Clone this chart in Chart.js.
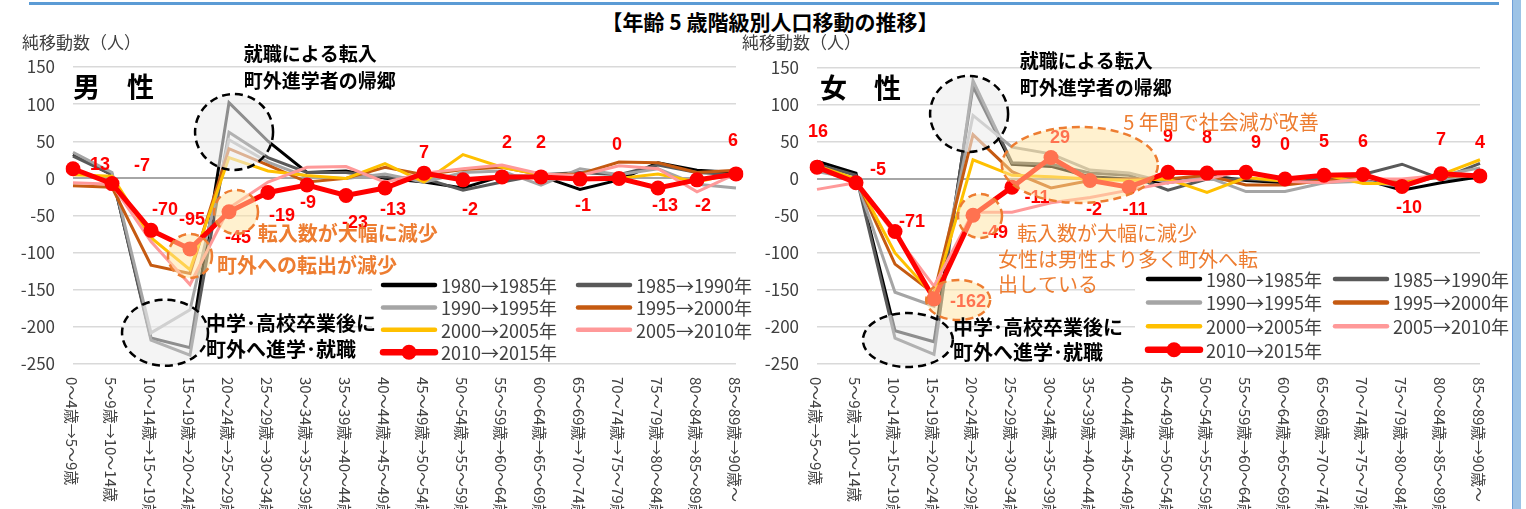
<!DOCTYPE html>
<html lang="ja">
<head>
<meta charset="utf-8">
<title>年齢5歳階級別人口移動の推移</title>
<script src="https://cdn.jsdelivr.net/npm/chart.js@4/dist/chart.umd.min.js"></script>
<style>
  html, body { margin: 0; padding: 0; background: #fff; }
  body { width: 1526px; height: 509px; position: relative; overflow: hidden; font-family: "Noto Sans CJK JP", sans-serif; }
  #topline { position: absolute; left: 29px; top: 2px; width: 1470px; height: 3px; background: #5b9bd5; }
  #sidebar { position: absolute; left: 1512px; top: 0; width: 8px; height: 509px; background: #9dc3e6; border-left: 1px solid #6f9fd8; }
  #title { position: absolute; left: 0; width: 1540px; top: 6px; text-align: center; font-weight: bold; font-size: 21px; color: #000; }
  canvas { position: absolute; top: 0; }
  #male { left: 0; }
  #female { left: 740px; }
</style>
</head>
<body>
<div id="topline"></div>
<div id="title">【年齢 5 歳階級別人口移動の推移】</div>
<canvas id="male" width="760" height="509"></canvas>
<canvas id="female" width="786" height="509"></canvas>
<div id="sidebar"></div>
<script>
// 年齢階級（移動前→移動後）
const categories = [
  '0～4歳→5～9歳', '5～9歳→10～14歳', '10～14歳→15～19歳', '15～19歳→20～24歳',
  '20～24歳→25～29歳', '25～29歳→30～34歳', '30～34歳→35～39歳', '35～39歳→40～44歳',
  '40～44歳→45～49歳', '45～49歳→50～54歳', '50～54歳→55～59歳', '55～59歳→60～64歳',
  '60～64歳→65～69歳', '65～69歳→70～74歳', '70～74歳→75～79歳', '75～79歳→80～84歳',
  '80～84歳→85～89歳', '85～89歳→90歳～'
];
const periods = ['1980→1985年', '1985→1990年', '1990→1995年', '1995→2000年', '2000→2005年', '2005→2010年', '2010→2015年'];
const seriesColors = ['#000000', '#595959', '#a5a5a5', '#c55a11', '#ffc000', '#ff9999', '#ff0000'];

// 男性 純移動数
const male1980 = [32, 5, -215, -228, 102, 50, 8, 10, 0, -5, -13, 3, 3, -15, -2, 21, 11, 8];
const male1985 = [30, 5, -218, -238, 62, 28, 8, 8, 2, 0, -16, -5, 5, 8, 5, 18, 8, 5];
const male1990 = [35, 8, -208, -177, 52, 22, 2, 0, 6, -5, 8, 10, -9, 13, 5, 13, -8, -13];
const male1995 = [-10, -12, -117, -128, 40, 18, -5, 0, 15, 5, 12, 15, 5, 6, 22, 21, 8, 11];
const male2000 = [5, 3, -80, -123, 28, 10, 4, 0, 20, -5, 32, 15, 5, -2, 0, 6, -5, 8];
const male2005 = [-6, -8, -85, -143, -40, -5, 15, 16, -5, 7, 13, 18, 6, 4, 17, 13, -18, 6];
const male2010 = [13, -7, -70, -95, -45, -19, -9, -23, -13, 7, -2, 2, 2, -1, 0, -13, -2, 6];

// 女性 純移動数
const female1980 = [24, 8, -205, -220, 125, 20, 17, 3, 0, -5, 5, -2, -5, 0, 0, -15, -5, 3];
const female1985 = [20, 5, -215, -237, 133, 22, 20, 8, 5, -15, 0, 0, -3, 0, 6, 20, 0, 21];
const female1990 = [10, 0, -153, -172, 86, 43, 34, 12, 8, -5, 3, -17, -17, -5, -3, -10, 5, 15];
const female1995 = [15, 0, -115, -155, 60, 10, -12, -2, 0, 0, 5, -8, -8, -2, 2, -5, 3, 5];
const female2000 = [18, 0, -100, -158, 26, 5, 3, 0, -2, 0, -18, 2, -3, 6, -6, -6, 6, 26];
const female2005 = [-14, -5, -75, -145, -45, -45, -32, -25, -15, -5, 0, 12, -3, -5, 0, 0, 5, 5];
const female2010 = [16, -5, -71, -162, -49, -11, 29, -2, -11, 9, 8, 9, 0, 5, 6, -10, 7, 4];

// 2010→2015年 データラベルの置き場所（点からのずれ, px）
const maleLabelOffsets = [[27,-4],[30,-18],[14,-20],[2,-29],[9,26],[14,24],[1,18],[9,28],[8,22],[0,-20],[7,30],[5,-34],[0,-34],[3,27],[-2,-33],[7,18],[6,26],[-3,-33]];
const femaleLabelOffsets = [[1,-35],[22,-13],[17,-10],[34,3],[22,18],[25,11],[9,-20],[4,30],[6,23],[0,-35],[0,-35],[10,-29],[0,-34],[0,-33],[0,-33],[7,22],[0,-34],[0,-33]];

const JP = '"Noto Sans CJK JP", sans-serif';

const decoPlugin = {
  id: 'deco',
  afterDatasetsDraw(chart, args, cfg) {
    const { ctx, scales: { x, y } } = chart;
    const red = chart.getDatasetMeta(chart.data.datasets.length - 1);
    const redData = chart.data.datasets[chart.data.datasets.length - 1].data;

    // data labels
    ctx.save();
    ctx.font = 'bold 18px "Liberation Sans", Arial, sans-serif';
    ctx.fillStyle = '#ff0000';
    ctx.textAlign = 'center';
    ctx.textBaseline = 'middle';
    red.data.forEach((pt, i) => {
      const o = cfg.labelOffsets[i];
      ctx.fillText(String(redData[i]), pt.x + o[0], pt.y + o[1]);
    });
    ctx.restore();

    // legend
    const lg = cfg.legend;
    ctx.save();
    ctx.fillStyle = '#fff';
    ctx.fillRect(lg.bg[0], lg.bg[1], lg.bg[2], lg.bg[3]);
    chart.data.datasets.forEach((ds, i) => {
      const lx = lg.x + (i % 2) * lg.colGap;
      const ly = lg.y + Math.floor(i / 2) * lg.rowGap;
      ctx.strokeStyle = ds.borderColor;
      ctx.lineWidth = ds.borderWidth + 1.5;
      ctx.lineCap = 'round';
      ctx.beginPath(); ctx.moveTo(lx, ly); ctx.lineTo(lx + 52, ly); ctx.stroke();
      if (ds.pointRadius > 0) {
        ctx.fillStyle = ds.borderColor;
        ctx.beginPath(); ctx.arc(lx + 26, ly, ds.pointRadius, 0, Math.PI * 2); ctx.fill();
      }
      ctx.fillStyle = '#404040';
      ctx.font = '18px ' + JP;
      ctx.textAlign = 'left';
      ctx.textBaseline = 'middle';
      ctx.fillText(ds.label, lx + 58, ly + 1);
    });
    ctx.restore();

    // ellipses
    cfg.ellipses.forEach(e => {
      ctx.save();
      ctx.beginPath();
      ctx.ellipse(x.getPixelForValue(e.i), y.getPixelForValue(e.v), e.rx, e.ry, 0, 0, Math.PI * 2);
      if (e.kind === 'gray') {
        ctx.fillStyle = 'rgba(236,236,236,0.6)';
        ctx.strokeStyle = '#000';
      } else {
        ctx.fillStyle = 'rgba(255,228,160,0.5)';
        ctx.strokeStyle = '#ed7d31';
      }
      ctx.fill();
      ctx.setLineDash([8, 5]);
      ctx.lineWidth = 2.5;
      ctx.stroke();
      ctx.restore();
    });

    // notes
    cfg.notes.forEach(n => {
      ctx.save();
      ctx.font = (n.bold ? 'bold ' : '') + (n.size || 20) + 'px ' + JP;
      ctx.fillStyle = n.color || '#000';
      ctx.textAlign = 'left';
      ctx.textBaseline = 'middle';
      ctx.fillText(n.text, x.getPixelForValue(n.i), y.getPixelForValue(n.v));
      ctx.restore();
    });

    // axis title
    ctx.save();
    ctx.font = '17px ' + JP;
    ctx.fillStyle = '#404040';
    ctx.textAlign = 'left';
    ctx.textBaseline = 'middle';
    ctx.fillText('純移動数（人）', cfg.axisTitleX, 43);
    ctx.restore();

    // category labels, vertical
    ctx.save();
    ctx.font = '15px ' + JP;
    ctx.fillStyle = '#404040';
    ctx.textAlign = 'left';
    ctx.textBaseline = 'middle';
    chart.data.labels.forEach((lab, i) => {
      ctx.save();
      ctx.translate(x.getPixelForValue(i) - 1, y.bottom + 13);
      ctx.rotate(Math.PI / 2);
      ctx.fillText(lab, 0, 0);
      ctx.restore();
    });
    ctx.restore();
  }
};

function makeChart(id, series, cfg) {
  const ctx = document.getElementById(id).getContext('2d');
  const datasets = series.map((data, i) => {
    const last = i === series.length - 1;
    return {
      label: periods[i],
      data: data,
      borderColor: seriesColors[i],
      backgroundColor: seriesColors[i],
      borderWidth: last ? 5 : 3,
      pointRadius: last ? 7.5 : 0,
      pointHoverRadius: last ? 7.5 : 0,
      pointBorderWidth: 0,
      tension: 0,
      order: series.length - 1 - i
    };
  });
  return new Chart(ctx, {
    type: 'line',
    data: { labels: categories, datasets: datasets },
    options: {
      responsive: false,
      animation: false,
      events: [],
      layout: { padding: { left: 0, right: cfg.padRight, top: cfg.padTop, bottom: 509 - 364 } },
      scales: {
        x: { display: false, offset: false },
        y: {
          min: -250, max: 150,
          afterFit: s => { s.width = cfg.axisWidth; },
          ticks: { stepSize: 50, padding: 18, color: '#404040', font: { family: JP, size: 17 } },
          grid: {
            drawTicks: false,
            color: c => c.tick && c.tick.value === 0 ? '#a6a6a6' : '#d9d9d9',
            lineWidth: c => c.tick && c.tick.value === 0 ? 2 : 1.5
          },
          border: { display: false }
        }
      },
      plugins: { legend: { display: false }, tooltip: { enabled: false }, deco: cfg }
    },
    plugins: [decoPlugin]
  });
}

makeChart('male', [male1980, male1985, male1990, male1995, male2000, male2005, male2010], {
  axisWidth: 73, padRight: 760 - 736, padTop: 67, axisTitleX: 22,
  labelOffsets: maleLabelOffsets,
  legend: { x: 383, y: 285, rowGap: 22.4, colGap: 195, bg: [372, 270, 388, 92] },
  ellipses: [
    { kind: 'gray', i: 4.13, v: 62.5, rx: 39, ry: 38 },
    { kind: 'gray', i: 2.36, v: -208, rx: 43, ry: 33 },
    { kind: 'orange', i: 3.0, v: -104.5, rx: 22, ry: 22 },
    { kind: 'orange', i: 4.18, v: -45.3, rx: 22, ry: 22 }
  ],
  notes: [
    { text: '男　性', i: 0, v: 123, bold: true, size: 27 },
    { text: '就職による転入', i: 4.38, v: 167.6, bold: true, size: 19 },
    { text: '町外進学者の帰郷', i: 4.38, v: 131.2, bold: true, size: 19 },
    { text: '転入数が大幅に減少', i: 4.74, v: -73.5, bold: true, color: '#ed7d31' },
    { text: '町外への転出が減少', i: 3.69, v: -116.6, bold: true, color: '#ed7d31' },
    { text: '中学･高校卒業後に', i: 3.41, v: -194.7, bold: true },
    { text: '町外へ進学･就職', i: 3.41, v: -229.7, bold: true }
  ]
});

makeChart('female', [female1980, female1985, female1990, female1995, female2000, female2005, female2010], {
  axisWidth: 77, padRight: 786 - 740, padTop: 68, axisTitleX: 2,
  labelOffsets: femaleLabelOffsets,
  legend: { x: 408, y: 279, rowGap: 23.6, colGap: 187, bg: [395, 268, 375, 94] },
  ellipses: [
    { kind: 'gray', i: 3.9, v: 88, rx: 39, ry: 38 },
    { kind: 'gray', i: 2.33, v: -217.6, rx: 45, ry: 27 },
    { kind: 'orange', i: 4.18, v: -50, rx: 22, ry: 22 },
    { kind: 'orange', i: 3.62, v: -163.5, rx: 32, ry: 20 },
    { kind: 'orange', i: 6.74, v: 19, rx: 78, ry: 38 }
  ],
  notes: [
    { text: '女　性', i: 0.08, v: 123, bold: true, size: 27 },
    { text: '就職による転入', i: 5.2, v: 159.5, bold: true, size: 19 },
    { text: '町外進学者の帰郷', i: 5.2, v: 123, bold: true, size: 19 },
    { text: '5 年間で社会減が改善', i: 7.85, v: 77, color: '#ed7d31' },
    { text: '転入数が大幅に減少', i: 5.13, v: -73, color: '#ed7d31' },
    { text: '女性は男性より多く町外へ転', i: 4.64, v: -108, color: '#ed7d31' },
    { text: '出している', i: 4.64, v: -143, color: '#ed7d31' },
    { text: '中学･高校卒業後に', i: 3.49, v: -201, bold: true },
    { text: '町外へ進学･就職', i: 3.49, v: -235, bold: true }
  ]
});
</script>
</body>
</html>
